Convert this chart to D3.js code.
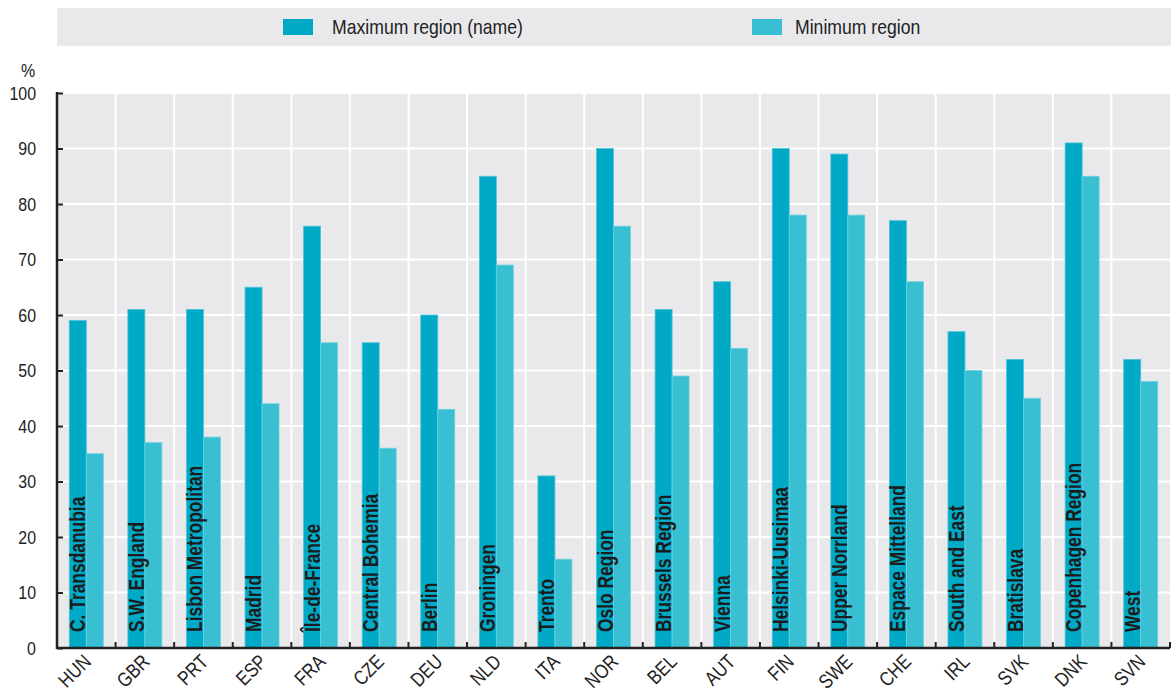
<!DOCTYPE html>
<html>
<head>
<meta charset="utf-8">
<script src="https://cdn.jsdelivr.net/npm/d3@7/dist/d3.min.js"></script>
<style>
  html, body { margin: 0; padding: 0; background: #ffffff; }
  svg { display: block; }
  text { font-family: "Liberation Sans", Arial, Helvetica, sans-serif; }
</style>
</head>
<body>
<svg id="chart" width="1171" height="694"></svg>
<script>
// Country codes along the x axis
const countries = ["HUN","GBR","PRT","ESP","FRA","CZE","DEU","NLD","ITA","NOR","BEL","AUT","FIN","SWE","CHE","IRL","SVK","DNK","SVN"];
// Name of the region with the highest value in each country
const maxRegionNames = ["C. Transdanubia","S.W. England","Lisbon Metropolitan","Madrid","Île-de-France","Central Bohemia","Berlin","Groningen","Trento","Oslo Region","Brussels Region","Vienna","Helsinki-Uusimaa","Upper Norrland","Espace Mittelland","South and East","Bratislava","Copenhagen Region","West"];
// Values (%) for the maximum and minimum region
const maxValues = [59,61,61,65,76,55,60,85,31,90,61,66,90,89,77,57,52,91,52];
const minValues = [35,37,38,44,55,36,43,69,16,76,49,54,78,78,66,50,45,85,48];
// Y axis ticks
const yTicks = [0,10,20,30,40,50,60,70,80,90,100];
const seriesNames = ["Maximum region (name)", "Minimum region"];

const colors = { max: "#00aac6", min: "#38c0d2", maxStroke: "#4cc3d6", minStroke: "#6fd0de" };
const ink = "#222222";
// Horizontal squeeze that gives the condensed type look
const squeeze = 0.84;

const svg = d3.select("#chart");
const plot = { left: 57, right: 1170, top: 93, bottom: 648 };

const x = d3.scaleBand().domain(countries).range([plot.left, plot.right]).paddingInner(0).paddingOuter(0);
const y = d3.scaleLinear().domain([0, 100]).range([plot.bottom, plot.top]);
const barW = 17;
const groupOffset = (x.bandwidth() - 2 * barW) / 2;

// Legend band
svg.append("rect").attr("x", 57).attr("y", 8).attr("width", 1171 - 57).attr("height", 38).attr("fill", "#e9e9ec");
const legendItems = [
  { name: seriesNames[0], color: colors.max, sx: 283, tx: 332 },
  { name: seriesNames[1], color: colors.min, sx: 752, tx: 795 }
];
legendItems.forEach(d => {
  svg.append("rect").attr("x", d.sx).attr("y", 19).attr("width", 30).attr("height", 16).attr("fill", d.color);
  svg.append("text").attr("transform", `translate(${d.tx},34) scale(0.86,1)`)
    .attr("font-size", 20.5).attr("fill", ink).text(d.name);
});

// Plot background
svg.append("rect").attr("x", plot.left).attr("y", plot.top).attr("width", plot.right - plot.left).attr("height", plot.bottom - plot.top).attr("fill", "#e9e9ec");

// Horizontal grid lines
svg.append("g").selectAll("line").data(yTicks.filter(t => t > 0)).join("line")
  .attr("x1", plot.left).attr("x2", plot.right)
  .attr("y1", d => y(d)).attr("y2", d => y(d))
  .attr("stroke", "#ffffff").attr("stroke-width", 2);

// Vertical grid lines at category boundaries
const boundaries = countries.slice(1).map(c => x(c));
svg.append("g").selectAll("line").data(boundaries).join("line")
  .attr("x1", d => d).attr("x2", d => d)
  .attr("y1", plot.top).attr("y2", plot.bottom)
  .attr("stroke", "#ffffff").attr("stroke-width", 2);

// Bars
const groups = svg.append("g").selectAll("g").data(countries).join("g")
  .attr("transform", d => `translate(${x(d) + groupOffset},0)`);

groups.append("rect")
  .attr("x", 0).attr("width", barW)
  .attr("y", (d, i) => y(maxValues[i]))
  .attr("height", (d, i) => y(0) - y(maxValues[i]))
  .attr("fill", colors.max).attr("stroke", colors.maxStroke).attr("stroke-width", 0.8);

groups.append("rect")
  .attr("x", barW).attr("width", barW)
  .attr("y", (d, i) => y(minValues[i]))
  .attr("height", (d, i) => y(0) - y(minValues[i]))
  .attr("fill", colors.min).attr("stroke", colors.minStroke).attr("stroke-width", 0.8);

// Region names inside the maximum bars
groups.append("text")
  .attr("transform", `translate(${barW / 2 + 7.5},${plot.bottom - 16}) rotate(-90) scale(0.81,1)`)
  .attr("font-size", 21.5).attr("font-weight", "bold").attr("fill", "#1c1c1c")
  .text((d, i) => maxRegionNames[i]);

// Y axis
const yAxis = d3.axisLeft(y).tickValues(yTicks).tickSize(-6).tickPadding(21).tickFormat(d3.format("d"));
const yg = svg.append("g").attr("transform", `translate(${plot.left},0)`).call(yAxis);
yg.select(".domain").remove();
yg.selectAll(".tick line").attr("stroke", ink).attr("stroke-width", 2);
yg.selectAll(".tick text")
  .attr("x", -21 / squeeze)
  .attr("transform", `scale(${squeeze},1)`)
  .attr("font-size", 19).attr("fill", ink).attr("font-family", null);
svg.append("line").attr("x1", plot.left).attr("x2", plot.left).attr("y1", plot.top - 1).attr("y2", plot.bottom + 1)
  .attr("stroke", ink).attr("stroke-width", 2.5);

svg.append("text").attr("transform", `translate(28,77) scale(${squeeze},1)`)
  .attr("text-anchor", "middle").attr("font-size", 19).attr("fill", ink).text("%");

// X axis: ticks at category boundaries, labels rotated
svg.append("g").selectAll("line").data(countries.map(c => x(c)).concat([plot.right])).join("line")
  .attr("x1", d => d).attr("x2", d => d)
  .attr("y1", plot.bottom).attr("y2", plot.bottom - 6)
  .attr("stroke", ink).attr("stroke-width", 2);
svg.append("line").attr("x1", plot.left).attr("x2", plot.right).attr("y1", plot.bottom).attr("y2", plot.bottom)
  .attr("stroke", ink).attr("stroke-width", 2.5);

svg.append("g").selectAll("text").data(countries).join("text")
  .attr("transform", d => `translate(${x(d) + x.bandwidth() / 2 + 1},${plot.bottom + 10}) rotate(-45) scale(${squeeze},1)`)
  .attr("text-anchor", "end").attr("dy", "0.35em")
  .attr("font-size", 20).attr("fill", ink)
  .text(d => d);
</script>
</body>
</html>
